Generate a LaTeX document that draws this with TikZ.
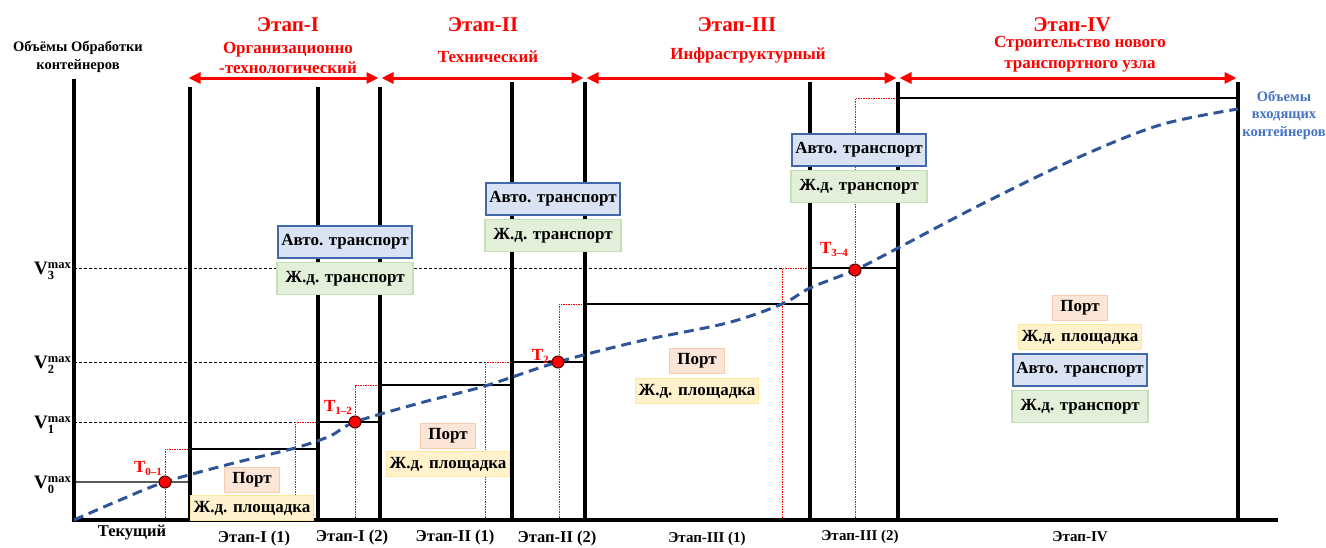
\documentclass[tikz,border=0pt]{standalone}
\usepackage{fontspec}
\setmainfont{Liberation Serif}
\usepackage{tikz}
\usetikzlibrary{arrows.meta, positioning, calc}
\definecolor{etap-red}{RGB}{255,0,0}
\definecolor{flow-blue}{RGB}{47,85,151}
\definecolor{note-blue}{RGB}{68,114,196}
\definecolor{avto-fill}{RGB}{218,227,243}
\definecolor{avto-draw}{RGB}{65,105,170}
\definecolor{rail-fill}{RGB}{226,240,217}
\definecolor{rail-draw}{RGB}{197,224,180}
\definecolor{port-fill}{RGB}{251,229,214}
\definecolor{port-draw}{RGB}{248,203,173}
\definecolor{yard-fill}{RGB}{255,242,204}
\definecolor{yard-draw}{RGB}{255,230,153}
\newcommand{\vmaxlab}[1]{V\rlap{\raisebox{-5pt}{\fontsize{12.5}{13}\selectfont #1}}\raisebox{6pt}{\fontsize{12.5}{13}\selectfont max}}
\newcommand{\tlab}[1]{T\raisebox{-3pt}{\fontsize{11}{11}\selectfont #1}}

\begin{document}
\begin{tikzpicture}[
    x=1pt, y=-1pt,
    node distance=3pt,
    bigline/.style={line width=3.3pt, black},
    capline/.style={line width=1.1pt, black},
    vmaxline/.style={line width=0.9pt, dash pattern=on 3pt off 2pt},
    redstep/.style={line width=1pt, etap-red, dash pattern=on 1.5pt off 1pt},
    stagespan/.style={{Triangle[length=12pt,width=11pt]}-{Triangle[length=12pt,width=11pt]}, line width=3pt, etap-red, shorten >=1.5pt, shorten <=1.5pt},
    flow/.style={line width=3pt, flow-blue, dash pattern=on 10pt off 6pt},
    box/.style={rectangle, inner sep=0pt, line width=1.3pt, font=\fontsize{17}{18}\selectfont\bfseries},
    avto/.style={box, draw=avto-draw, fill=avto-fill, minimum width=134pt, minimum height=32pt},
    rail/.style={box, draw=rail-draw, fill=rail-fill, minimum width=136pt, minimum height=32pt},
    port/.style={box, draw=port-draw, fill=port-fill, minimum width=55pt, minimum height=25pt},
    yard/.style={box, draw=yard-draw, fill=yard-fill, minimum width=123pt, minimum height=25pt},
    stagetitle/.style={font=\fontsize{21}{24}\selectfont\bfseries, text=etap-red},
    subtitle/.style={font=\fontsize{17}{20.5}\selectfont\bfseries, text=etap-red, align=center},
    period/.style={font=\fontsize{16.5}{18}\selectfont\bfseries},
    vlab/.style={font=\fontsize{19}{20}\selectfont\bfseries, inner sep=0pt},
    tlab/.style={font=\fontsize{17}{18}\selectfont\bfseries, text=etap-red, inner sep=0pt},
    tpoint/.style={circle, fill=etap-red, draw=black!70!red, line width=1pt, minimum size=12pt, inner sep=0pt}
]
    \useasboundingbox (0,0) rectangle (1326,547);

    % Уровни V max
    \draw[vmaxline] (74,422) -- (295,422);
    \draw[vmaxline] (74,362) -- (485,362);
    \draw[vmaxline] (74,268) -- (782,268);
    \draw[line width=1.5pt, black!65] (74,482) -- (190,482);

    % Красные ступени
    \foreach \x/\y/\e in {165/449/190, 295/422/318, 355/385/380, 485/362/512, 559/304/585, 782/268/810, 855/98/898}
        \draw[redstep] (\x,520) -- (\x,\y) -- (\e,\y);

    % Мощности по этапам
    \foreach \y/\a/\b in {449/190/318, 422/318/380, 385/380/512, 362/512/585, 304/585/810, 268/810/898, 98/898/1238}
        \draw[capline] (\a,\y) -- (\b,\y);

    % Этапы
    \foreach \x/\top in {190/87, 318/87, 380/87, 512/82, 585/82, 810/82, 898/82, 1238/82}
        \draw[bigline] (\x,\top) -- (\x,520);
    \draw[bigline, line width=3.8pt] (74,79) -- (74,520) -- (1278,520);

    % Входящий поток
    \draw[flow] plot[smooth, tension=0.55] coordinates {(74,520) (120,500) (165,482) (230,464) (295,448) (330,436) (355,422) (420,403) (485,386) (558,362) (640,341) (727,323) (782,304) (810,288) (855,270) (898,248) (980,205) (1077,158) (1160,125) (1238,109)};

    % Стрелки этапов
    \coordinate (s0) at (187,78);
    \coordinate (s1) at (380,78);
    \coordinate (s2) at (585,78);
    \coordinate (s3) at (898,78);
    \coordinate (s4) at (1238,78);
    \draw[stagespan] (s0) -- (s1);
    \draw[stagespan] (s1) -- (s2);
    \draw[stagespan] (s2) -- (s3);
    \draw[stagespan] (s3) -- (s4);

    \node[stagetitle] (e1) at (288,25) {Этап-I};
    \node[subtitle] (n1) at (288,58) {Организационно\\-технологический};
    \node[stagetitle] (e2) at (483,25) {Этап-II};
    \node[subtitle] (n2) at (488,57) {Технический};
    \node[stagetitle] (e3) at (737,25) {Этап-III};
    \node[subtitle] (n3) at (748,55) {Инфраструктурный};
    \node[stagetitle] (e4) at (1072,25) {Этап-IV};
    \node[subtitle] (n4) at (1080,54) {Строительство нового\\транспортного узла};

    % Подписи осей
    \node[font=\fontsize{14.5}{18}\selectfont\bfseries, align=center] (yname) at (78,57) {Объёмы Обработки\\контейнеров};
    \node[font=\fontsize{14.5}{17.5}\selectfont\bfseries, text=note-blue, align=center] (fname) at (1284,115) {Объемы\\входящих\\контейнеров};
    \foreach \k/\y in {0/482, 1/422, 2/362, 3/268}
        \node[vlab, anchor=base east] (v\k) at (71,{\y+6}) {\vmaxlab{\k}};

    \node[period] (p0) at (132,533) {Текущий};
    \node[period] (p1) at (254,539) {Этап-I (1)};
    \node[period] (p2) at (352,538) {Этап-I (2)};
    \node[period] (p3) at (455,538) {Этап-II (1)};
    \node[period] (p4) at (557,539) {Этап-II (2)};
    \node[period, font=\fontsize{15}{17}\selectfont\bfseries] (p5) at (707,539) {Этап-III (1)};
    \node[period, font=\fontsize{15}{17}\selectfont\bfseries] (p6) at (860,537) {Этап-III (2)};
    \node[period, font=\fontsize{15}{17}\selectfont\bfseries] (p7) at (1080,537) {Этап-IV};

    % Инфраструктура
    \node[avto] (a1) at (345,242) {Авто. транспорт};
    \node[rail, below=of a1] (r1) {Ж.д. транспорт};
    \node[avto] (a2) at (553,199) {Авто. транспорт};
    \node[rail, below=of a2] (r2) {Ж.д. транспорт};
    \node[avto] (a3) at (859,150) {Авто. транспорт};
    \node[rail, below=of a3] (r3) {Ж.д. транспорт};

    \node[port] (o1) at (252,480) {Порт};
    \node[yard, below=2pt of o1] (y1) {Ж.д. площадка};
    \node[port] (o2) at (448,436) {Порт};
    \node[yard, below=2pt of o2] (y2) {Ж.д. площадка};
    \node[port] (o3) at (697,361) {Порт};
    \node[yard, below=4pt of o3] (y3) {Ж.д. площадка};

    \node[port] (o4) at (1080,308) {Порт};
    \node[yard, below=of o4] (y4) {Ж.д. площадка};
    \node[avto, below=of y4] (a4) {Авто. транспорт};
    \node[rail, below=of a4] (r4) {Ж.д. транспорт};

    % Точки перехода
    \node[tlab] (l01) at (148,468) {\tlab{0–1}};
    \node[tlab] (l12) at (338,407) {\tlab{1–2}};
    \node[tlab] (l2) at (543,356) {\tlab{2–}};
    \node[tlab] (l34) at (834,249) {\tlab{3–4}};
    \node[tpoint] (t01) at (165,482) {};
    \node[tpoint] (t12) at (355,422) {};
    \node[tpoint] (t2) at (558,362) {};
    \node[tpoint] (t34) at (855,270) {};
\end{tikzpicture}
\end{document}
